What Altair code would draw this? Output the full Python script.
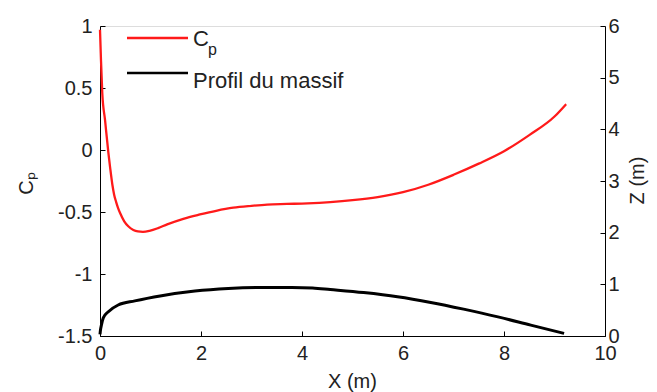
import altair as alt
import pandas as pd

# ---- data ----
cp_x = [0, 0.02, 0.045, 0.1, 0.165, 0.2, 0.245, 0.28, 0.32, 0.36, 0.40, 0.48, 0.56, 0.66,
        0.75, 0.85, 0.98, 1.15, 1.33, 1.65, 1.98, 2.3, 2.64, 3.0, 3.31, 3.7, 4.11, 4.56,
        5.0, 5.5, 6.0, 6.5, 7.0, 7.5, 8.0, 8.5, 9.0, 9.23]
cp_val = [0.97, 0.72, 0.46, 0.24, -0.02, -0.14, -0.28, -0.36, -0.42, -0.47, -0.51, -0.575,
          -0.615, -0.645, -0.657, -0.66, -0.652, -0.63, -0.60, -0.555, -0.52, -0.49, -0.465,
          -0.45, -0.44, -0.435, -0.43, -0.42, -0.405, -0.38, -0.34, -0.28, -0.20, -0.11,
          -0.01, 0.12, 0.27, 0.37]

prof_x = [0, 0.01, 0.03, 0.065, 0.165, 0.36, 0.69, 1.22, 1.88, 2.54, 3.21, 3.8, 4.21, 4.56,
          5.22, 5.89, 6.55, 7.2, 7.88, 8.53, 9.19]
prof_z = [0.03, 0.12, 0.22, 0.35, 0.47, 0.60, 0.68, 0.78, 0.87, 0.92, 0.94, 0.94, 0.93, 0.90,
          0.84, 0.76, 0.65, 0.52, 0.37, 0.21, 0.05]

x_ticks = [0, 2, 4, 6, 8, 10]
cp_ticks = [-1.5, -1, -0.5, 0, 0.5, 1]
z_ticks = [0, 1, 2, 3, 4, 5, 6]

legend_labels = ["C", "Profil du massif"]

W, H = 505, 310
FONT = "Liberation Sans"
FS = 20
LBL = "#222222"

cp_df = pd.DataFrame({"X": cp_x, "Cp": cp_val})
prof_df = pd.DataFrame({"X": prof_x, "Z": prof_z})

xscale = alt.Scale(domain=[0, 10], nice=False, zero=False)
cpscale = alt.Scale(domain=[-1.5, 1], nice=False, zero=False)
zscale = alt.Scale(domain=[0, 6], nice=False, zero=False)

common = dict(
    labelFont=FONT, labelFontSize=FS, labelColor=LBL, labelFlush=False, labelOverlap=False,
    titleFont=FONT, titleFontSize=FS, titleColor=LBL, titleFontWeight="normal",
    domainColor="black", tickColor="black", tickSize={"expr": "-5"}, grid=False,
    domainWidth=1, tickWidth=1,
)

x_axis = alt.Axis(values=x_ticks, title="X (m)", labelPadding=12, titleX=252, titleY=51,
                  titleBaseline="alphabetic", titleAlign="center",
                  labelExpr="'' + datum.value", **common)
cp_axis = alt.Axis(values=cp_ticks, title="Cₚ", orient="left", labelPadding=13,
                   titleX=-68, titleY=157, titleAngle=270, titleBaseline="alphabetic",
                   titleAlign="center", labelExpr="'' + datum.value", **common)
z_axis = alt.Axis(values=z_ticks, title="Z (m)", orient="right", labelPadding=8,
                  titleX=38, titleY=154, titleAngle=270, titleBaseline="alphabetic",
                  titleAlign="center", labelExpr="'' + datum.value", **common)

red = alt.Chart(cp_df).mark_line(color="#ff1a1a", strokeWidth=2.3, interpolate="monotone").encode(
    x=alt.X("X:Q", scale=xscale, axis=x_axis),
    y=alt.Y("Cp:Q", scale=cpscale, axis=cp_axis),
)

black = alt.Chart(prof_df).mark_line(color="black", strokeWidth=3, interpolate="monotone").encode(
    x=alt.X("X:Q", scale=xscale),
    y=alt.Y("Z:Q", scale=zscale, axis=z_axis),
)

# ---- legend (inside the plot, top-left) ----
leg_red = alt.Chart(pd.DataFrame({"k": [0]})).mark_rule(color="#ff1a1a", strokeWidth=2.5).encode(
    x=alt.value(27), x2=alt.value(88), y=alt.value(12))
leg_black = alt.Chart(pd.DataFrame({"k": [0]})).mark_rule(color="black", strokeWidth=2.5).encode(
    x=alt.value(27), x2=alt.value(88), y=alt.value(47))
leg_c = alt.Chart(pd.DataFrame({"t": [legend_labels[0]]})).mark_text(
    font=FONT, fontSize=22, color=LBL, align="left", baseline="alphabetic").encode(
    text="t:N", x=alt.value(93), y=alt.value(20))
leg_p = alt.Chart(pd.DataFrame({"t": ["p"]})).mark_text(
    font=FONT, fontSize=16, color=LBL, align="left", baseline="alphabetic").encode(
    text="t:N", x=alt.value(108), y=alt.value(29))
leg_prof = alt.Chart(pd.DataFrame({"t": [legend_labels[1]]})).mark_text(
    font=FONT, fontSize=22, color=LBL, align="left", baseline="alphabetic").encode(
    text="t:N", x=alt.value(93), y=alt.value(62))

chart = alt.layer(red, black, leg_red, leg_black, leg_c, leg_p, leg_prof).resolve_scale(
    y="independent"
).properties(
    width=W, height=H,
    autosize=alt.AutoSizeParams(type="none"),
    padding={"left": 100, "top": 26, "right": 52, "bottom": 56},
).configure_view(stroke=None).configure(background="white")

chart.save("out.html", embed_options={"renderer": "svg", "actions": False})
